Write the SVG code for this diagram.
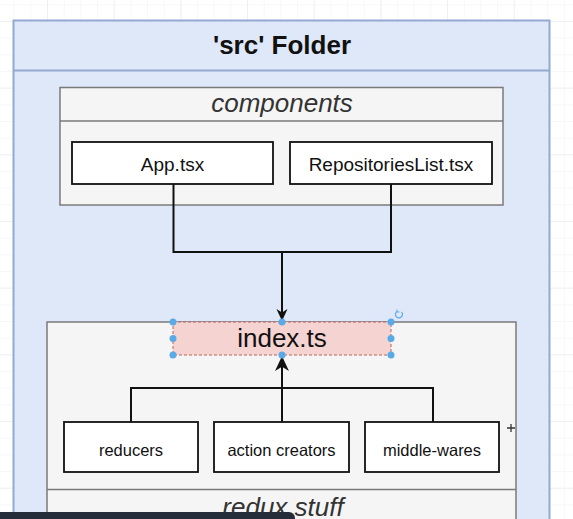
<svg xmlns="http://www.w3.org/2000/svg" width="573" height="519" viewBox="0 0 573 519">
  <defs>
    <pattern id="gridMinor" width="16.67" height="16.67" patternUnits="userSpaceOnUse" x="13.7" y="4.3">
      <path d="M0,0 H16.67 M0,0 V16.67" fill="none" stroke="#f1f1f1" stroke-width="1"/>
    </pattern>
    <pattern id="gridMajor" width="66.67" height="66.67" patternUnits="userSpaceOnUse" x="47" y="21">
      <path d="M0,0 H66.67 M0,0 V66.67" fill="none" stroke="#e7e7e7" stroke-width="1"/>
    </pattern>
    <marker id="arrow" viewBox="0 0 12 12" refX="12" refY="6" markerWidth="12" markerHeight="12" markerUnits="userSpaceOnUse" orient="auto">
      <path d="M0,0.5 L12,6 L0,11.5 L3.5,6 z" fill="#111"/>
    </marker>
    <marker id="arrowBig" viewBox="0 0 14 14" refX="14" refY="7" markerWidth="15" markerHeight="15" markerUnits="userSpaceOnUse" orient="auto">
      <path d="M0,0.5 L14,7 L0,13.5 L4,7 z" fill="#111"/>
    </marker>
  </defs>
  <style>
    .lbl { font-family: "Liberation Sans", Arial, sans-serif; fill: #111; text-anchor: middle; }
    .title { font-size: 26px; font-weight: bold; }
    .section { font-size: 26px; font-style: italic; fill: #333; }
    .box { fill: #ffffff; stroke: #111; stroke-width: 1.8; }
    .container { fill: #f5f5f5; stroke: #7a7a7a; stroke-width: 1.5; }
    .edge { fill: none; stroke: #111; stroke-width: 2; }
    .handle { fill: #5aaae8; }
  </style>

  <!-- canvas grid -->
  <rect width="573" height="519" fill="#ffffff"/>
  <rect width="573" height="519" fill="url(#gridMinor)"/>
  <rect width="573" height="519" fill="url(#gridMajor)"/>

  <!-- outer folder -->
  <g id="src-folder">
    <rect x="13.5" y="20.5" width="536" height="520" fill="#dfe8f8" stroke="#94a9d1" stroke-width="2"/>
    <line x1="13.5" y1="70.5" x2="549.5" y2="70.5" stroke="#94a9d1" stroke-width="2"/>
    <text class="lbl title" x="282" y="54">'src' Folder</text>
  </g>

  <!-- components section -->
  <g id="components">
    <rect class="container" x="60" y="87.5" width="443" height="117.5"/>
    <line x1="60" y1="121" x2="503" y2="121" stroke="#7a7a7a" stroke-width="1.5"/>
    <text class="lbl section" x="282" y="112">components</text>
  </g>

  <g id="app-tsx">
    <rect class="box" x="72" y="142" width="201" height="42"/>
    <text class="lbl" x="172.5" y="171" font-size="19">App.tsx</text>
  </g>

  <g id="repositories-list">
    <rect class="box" x="290" y="142" width="202" height="42"/>
    <text class="lbl" x="391" y="171" font-size="19">RepositoriesList.tsx</text>
  </g>

  <!-- redux section -->
  <g id="redux-stuff">
    <rect class="container" x="47" y="322" width="469" height="220"/>
    <line x1="47" y1="489.5" x2="516" y2="489.5" stroke="#7a7a7a" stroke-width="1.5"/>
    <text class="lbl section" x="283" y="516">redux stuff</text>
  </g>

  <g id="index-ts">
    <rect x="173" y="322" width="218" height="33" fill="#f4d3d0" stroke="#b8645f" stroke-width="1" stroke-dasharray="3 2"/>
    <text class="lbl" x="282" y="347" font-size="26">index.ts</text>
  </g>

  <g id="reducers">
    <rect class="box" x="64" y="422" width="134" height="50"/>
    <text class="lbl" x="131" y="456" font-size="16.5">reducers</text>
  </g>

  <g id="action-creators">
    <rect class="box" x="214" y="422" width="135" height="50"/>
    <text class="lbl" x="281.5" y="456" font-size="16.5">action creators</text>
  </g>

  <g id="middle-wares">
    <rect class="box" x="365" y="422" width="134" height="50"/>
    <text class="lbl" x="432" y="456" font-size="16.5">middle-wares</text>
  </g>

  <!-- connectors -->
  <g id="connectors">
    <path class="edge" d="M173.5,184 V252 H391 V184"/>
    <path class="edge" d="M282,252 V321" marker-end="url(#arrow)"/>
    <path class="edge" d="M131,422 V388 H433 V422"/>
    <path class="edge" d="M282,422 V356" marker-end="url(#arrowBig)" stroke-width="2.5"/>
  </g>

  <!-- selection handles around index.ts -->
  <g id="selection">
    <circle class="handle" cx="173" cy="322" r="3.5"/>
    <circle class="handle" cx="282" cy="322" r="3.5"/>
    <circle class="handle" cx="391" cy="322" r="3.5"/>
    <circle class="handle" cx="173" cy="338.5" r="3.5"/>
    <circle class="handle" cx="391" cy="338.5" r="3.5"/>
    <circle class="handle" cx="173" cy="355" r="3.5"/>
    <circle class="handle" cx="282" cy="355" r="3.5"/>
    <circle class="handle" cx="391" cy="355" r="3.5"/>
    <path d="M401.5,312 A3.5,3.5 0 1 1 397,311.5" fill="none" stroke="#5aaae8" stroke-width="1.2"/>
    <path d="M397,309.5 L397,312 L399.5,312" fill="none" stroke="#5aaae8" stroke-width="1"/>
    <path d="M511,424 V432 M507,428 H515" stroke="#333" stroke-width="1.3"/>
  </g>

  <!-- bottom overlay bar -->
  <path d="M0,512 H289 A6,6 0 0 1 295,518 V519 H0 Z" fill="#252c3a"/>
</svg>
